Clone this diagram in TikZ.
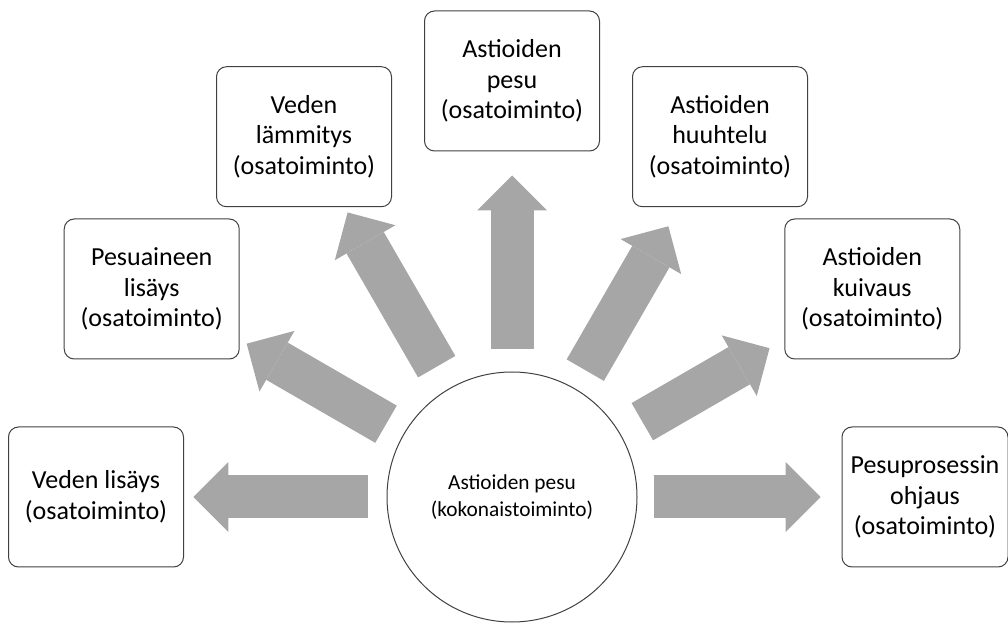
\documentclass[tikz,border=0pt]{standalone}
\usepackage{fontspec}
\setmainfont{Carlito}
\usetikzlibrary{arrows.meta,calc}
\definecolor{arrowgray}{RGB}{166,166,166}
\definecolor{linegray}{RGB}{64,64,64}

\begin{document}
\begin{tikzpicture}[
    x=0.75pt, y=0.75pt,
    subbox/.style={rectangle, rounded corners=7.5pt, draw=linegray, line width=0.75pt, minimum width=131.25pt, minimum height=105pt, inner sep=0pt, align=center, font=\fontsize{19.5pt}{23pt}\selectfont},
    mainbox/.style={circle, draw=linegray, line width=0.75pt, minimum size=187.5pt, inner sep=0pt, align=center, font=\fontsize{16pt}{20pt}\selectfont},
    bigarrow/.style={-{Triangle[length=26.25pt, width=52.5pt, line width=0pt]}, line width=32.25pt, draw=arrowgray}
]
    \useasboundingbox (0,0) rectangle (1008,622);

    % Whole function
    \node[mainbox] (kokonais) at (512,125) {Astioiden pesu\\(kokonaistoiminto)};

    % Sub functions
    \node[subbox] (lisays) at ($(kokonais)+(180:416)$) {Veden lisäys\\(osatoiminto)};
    \node[subbox] (pesuaine) at ($(kokonais)+(150:416)$) {Pesuaineen\\lisäys\\(osatoiminto)};
    \node[subbox] (lammitys) at ($(kokonais)+(120:416)$) {Veden\\lämmitys\\(osatoiminto)};
    \node[subbox] (pesu) at ($(kokonais)+(90:416)$) {Astioiden\\pesu\\(osatoiminto)};
    \node[subbox] (huuhtelu) at ($(kokonais)+(60:416)$) {Astioiden\\huuhtelu\\(osatoiminto)};
    \node[subbox] (kuivaus) at ($(kokonais)+(30:416)$) {Astioiden\\kuivaus\\(osatoiminto)};
    \node[subbox, minimum width=124.5pt] (ohjaus) at ($(kokonais)+(0:413)$) {Pesuprosessin\\ohjaus\\(osatoiminto)};

    % Arrows
    \draw[bigarrow, shorten <=14.25pt, shorten >=7.1pt] (kokonais) -- (lisays);
    \draw[bigarrow, shorten <=15pt, shorten >=6pt] (kokonais) -- (pesuaine);
    \draw[bigarrow, shorten <=18.75pt, shorten >=4.5pt] (kokonais) -- (lammitys);
    \draw[bigarrow, shorten <=16.5pt, shorten >=18pt] (kokonais) -- (pesu);
    \draw[bigarrow, shorten <=15.75pt, shorten >=16.5pt] (kokonais) -- (huuhtelu);
    \draw[bigarrow, shorten <=18.75pt, shorten >=12.75pt] (kokonais) -- (kuivaus);
    \draw[bigarrow, shorten <=12pt, shorten >=15.75pt] (kokonais) -- (ohjaus);
\end{tikzpicture}
\end{document}
